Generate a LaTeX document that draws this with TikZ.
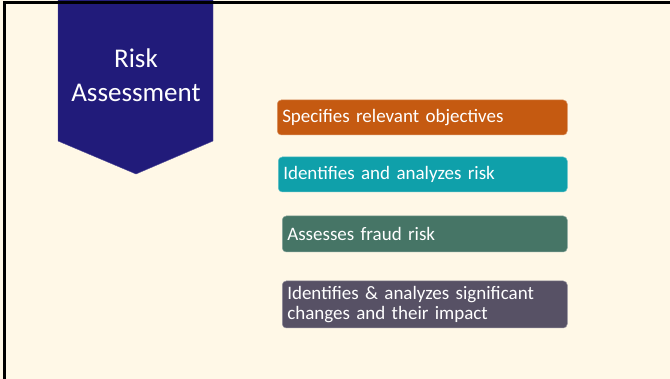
\documentclass[tikz,border=0pt]{standalone}
\usepackage{fontspec}
\setmainfont{Carlito}
\usepackage{tikz}
\usetikzlibrary{positioning}
\definecolor{slidebg}{RGB}{255,248,231}
\definecolor{navy}{RGB}{33,27,122}
\definecolor{rorange}{RGB}{197,90,17}
\definecolor{rteal}{RGB}{15,160,170}
\definecolor{rgreen}{RGB}{70,117,102}
\definecolor{rslate}{RGB}{87,81,101}
\tikzset{
  banner/.style={fill=navy, draw=navy!80!white, line width=0.4pt},
  btxt/.style={text=white, align=center, font=\fontsize{27}{34}\selectfont},
  rbox/.style={fill=#1, draw=#1!65!white, line width=0.5pt, rounded corners=4pt,
               anchor=west, inner xsep=5pt, inner ysep=0pt, align=left,
               text=white, font=\fontsize{19}{20}\selectfont},
  edge/.style={black, line width=3pt},
}

\begin{document}
\begin{tikzpicture}[x=1pt, y=-1pt]
        \useasboundingbox (0,0) rectangle (670,379);
        \fill[slidebg] (0,0) rectangle (670,379);
        % banner pointing down
        \filldraw[banner] (58,0) -- (213,0) -- (213,141) -- (136,174) -- (58,141) -- cycle;
        \node[btxt] (title) at (136,75) {Risk\\Assessment};
        % the four points
        \node[rbox=rorange, text width=280pt, minimum height=35pt] (obj) at (277,117.5) {Specifies relevant objectives};
        \node[rbox=rteal, text width=279pt, minimum height=35pt] (risk) at (278,174.5) {Identifies and analyzes risk};
        \node[rbox=rgreen, text width=275pt, minimum height=36pt] (fraud) at (282,234) {Assesses fraud risk};
        \node[rbox=rslate, text width=275pt, minimum height=47pt] (chg) at (282,304.5) {Identifies \& analyzes significant\\changes and their impact};
        % slide edge
        \draw[edge] (4.5,379) -- (4.5,2.5) -- (670,2.5);
      \end{tikzpicture}
\end{document}
